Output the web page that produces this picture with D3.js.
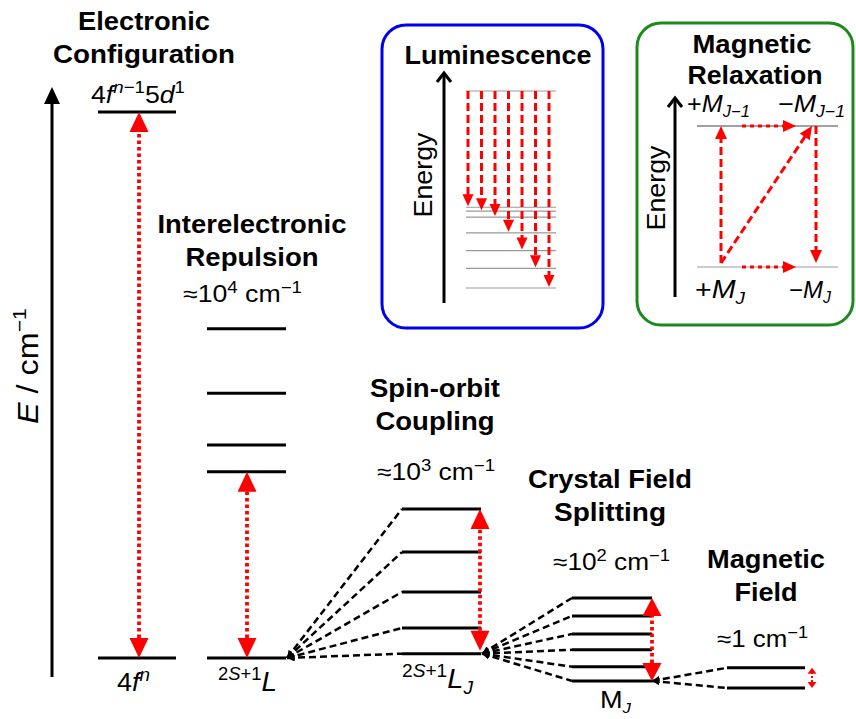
<!DOCTYPE html>
<html><head><meta charset="utf-8">
<script src="https://cdn.jsdelivr.net/npm/d3@7"></script>
<style>body{margin:0;background:#fff}svg{display:block;font-family:"Liberation Sans",Arial,sans-serif}</style>
</head><body><svg id="c" width="856" height="719"></svg>
<script>
// ---------- data (energies in arbitrary units, ground state = 0) ----------
const configLevels = [1000, 0];                    // 4f^(n-1)5d^1 , 4f^n
const repulsionLevels = [603, 485, 390, 341, 0];   // 2S+1 L terms
const spinOrbitLevels = [273, 194, 121, 55, 8];    // 2S+1 L_J
const crystalFieldLevels = [110, 77, 44, 15, -16, -42]; // M_J
const zeemanLevels = [-18, -55];                   // magnetic field
const luminescenceUpper = 100;
const luminescenceLower = [41, 39, 36, 28, 19, 10, 0];
const relaxationLevels = [100, 0];                 // ±M_(J-1), ±M_J
const headings = [["Electronic","Configuration"],["Interelectronic","Repulsion"],["Spin-orbit","Coupling"],["Crystal Field","Splitting"],["Magnetic","Field"]];
const splitExponents = ["4","3","2",""];

// ---------- setup ----------
const svg = d3.select("#c");
const RED = "#ff0000";
const y = d3.scaleLinear().domain([0, 1000]).range([658, 112]);
const cols = {cfg:[98,176], ir:[207,286], so:[402,481], cf:[572,652], mf:[727,805]};

function head(g, tipX, tipY, fromX, fromY, len, w, color){
  const a = Math.atan2(tipY-fromY, tipX-fromX);
  const bx = tipX - len*Math.cos(a), by = tipY - len*Math.sin(a);
  const px = -Math.sin(a)*w/2, py = Math.cos(a)*w/2;
  g.append("path").attr("d", d3.line()([[tipX,tipY],[bx+px,by+py],[bx-px,by-py]]) + "Z").attr("fill", color);
}
function arrow(g, x1, y1, x2, y2, o){
  const len = o.len, w = o.w, a = Math.atan2(y2-y1, x2-x1);
  const sx = o.dbl ? x1 + len*Math.cos(a) : x1, sy = o.dbl ? y1 + len*Math.sin(a) : y1;
  const ex = x2 - len*Math.cos(a)*0.9, ey = y2 - len*Math.sin(a)*0.9;
  g.append("line").attr("x1",sx).attr("y1",sy).attr("x2",ex).attr("y2",ey)
    .attr("stroke",o.color).attr("stroke-width",o.sw).attr("stroke-dasharray",o.dash||null);
  head(g, x2, y2, x1, y1, len, w, o.color);
  if(o.dbl) head(g, x1, y1, x2, y2, len, w, o.color);
}
function label(g, x, y0, parts, o){
  const t = g.append("text").attr("x",x).attr("y",y0).attr("font-size",o.size)
    .attr("text-anchor",o.anchor||"start").attr("font-weight",o.bold?"bold":null).attr("fill","#000");
  if(o.rot) t.attr("transform",`rotate(-90,${x},${y0})`);
  let cur = 0;
  const sr = o.sr || 0.66;
  parts.forEach(p=>{
    const s = typeof p === "string" ? {t:p} : p;
    const target = s.s==="sup" ? -0.4*o.size : s.s==="sub" ? 0.22*o.size : 0;
    const ts = t.append("tspan").text(s.t);
    if(s.i) ts.attr("font-style","italic");
    if(s.s) ts.attr("font-size", o.size*sr);
    if(target!==cur){ ts.attr("dy", target-cur); cur = target; }
  });
  if(o.w) t.attr("textLength",o.w).attr("lengthAdjust","spacingAndGlyphs");
  return t;
}

// ---------- main energy axis ----------
const main = svg.append("g");
main.append("line").attr("x1",52).attr("x2",52).attr("y1",677).attr("y2",100).attr("stroke","#000").attr("stroke-width",3);
head(main, 52, 87, 52, 677, 17, 16, "#000");
label(main, 38, 366, [{t:"E",i:1}," / cm",{t:"−1",s:"sup"}], {size:29, anchor:"middle", rot:1, w:116});

// ---------- levels ----------
function levels(arr, c, sw){
  main.selectAll(null).data(arr).join("line")
    .attr("x1",c[0]).attr("x2",c[1]).attr("y1",d=>y(d)).attr("y2",d=>y(d))
    .attr("stroke","#000").attr("stroke-width",sw||3);
}
levels(configLevels, cols.cfg);
levels(repulsionLevels, cols.ir);
levels(spinOrbitLevels, cols.so);
levels(crystalFieldLevels, cols.cf);
levels(zeemanLevels, cols.mf);

// dashed connectors with small arrow tips at origin
const defs = svg.append("defs");
defs.append("marker").attr("id","tip").attr("viewBox","0 0 10 10").attr("refX",10).attr("refY",5)
  .attr("markerWidth",3).attr("markerHeight",3).attr("orient","auto-start-reverse")
  .append("path").attr("d","M0,0L10,5L0,10Z").attr("fill","#000");
function connect(ox, oy, arr, c){
  main.selectAll(null).data(arr).join("line")
    .attr("x1",ox).attr("y1",oy).attr("x2",c[0]).attr("y2",d=>y(d))
    .attr("stroke","#000").attr("stroke-width",2.5).attr("stroke-dasharray","7,4")
    .attr("marker-start","url(#tip)");
}
connect(cols.ir[1]+1, y(repulsionLevels[4]), spinOrbitLevels, cols.so);
connect(cols.so[1]+1, y(spinOrbitLevels[4]), crystalFieldLevels, cols.cf);
connect(cols.cf[1], y(crystalFieldLevels[5]), zeemanLevels, cols.mf);

// red splitting arrows
const dotted = {color:RED, sw:3.8, dash:"3.5,3", dbl:true, len:20, w:19};
arrow(main, 139, y(configLevels[1]), 139, y(configLevels[0]), dotted);
arrow(main, 247, y(repulsionLevels[4]), 247, y(repulsionLevels[3]), dotted);
arrow(main, 480, y(spinOrbitLevels[4])-3, 480, y(spinOrbitLevels[0]), dotted);
arrow(main, 652, y(crystalFieldLevels[5]), 652, y(crystalFieldLevels[0]), Object.assign({}, dotted, {len:18}));
arrow(main, 812, y(zeemanLevels[1]), 812, y(zeemanLevels[0]), {color:RED, sw:2, dash:"2,2", dbl:true, len:6, w:9});

// ---------- headings ----------
const H = [
  {cx:144, y:[30,63], w:[132,182]},
  {cx:252, y:[233,266], w:[189,133]},
  {cx:435, y:[397,430], w:[130,119]},
  {cx:610, y:[488,521], w:[164,112]},
  {cx:766, y:[568,601], w:[118,63]}
];
headings.forEach((h,i)=>h.forEach((line,j)=>
  label(main, H[i].cx, H[i].y[j], [line], {size:25, bold:1, anchor:"middle", w:H[i].w[j]})));

// magnitude labels
const M = [{x:183,y:302,w:119},{x:377,y:480,w:118},{x:553,y:570,w:117},{x:717,y:647,w:91}];
splitExponents.forEach((e,i)=>{
  const parts = e ? ["≈10",{t:e,s:"sup"}," cm",{t:"−1",s:"sup"}] : ["≈1 cm",{t:"−1",s:"sup"}];
  label(main, M[i].x, M[i].y, parts, {size:23, w:M[i].w, sr:0.7});
});

// state labels
label(main, 91, 103, ["4",{t:"f",i:1},{t:"n",i:1,s:"sup"},{t:"−1",s:"sup"},"5",{t:"d",i:1},{t:"1",s:"sup"}], {size:24, w:94, sr:0.7});
label(main, 117, 691, ["4",{t:"f",i:1},{t:"n",i:1,s:"sup"}], {size:25, w:33, sr:0.7});
label(main, 218, 691, [{t:"2",s:"sup"},{t:"S",i:1,s:"sup"},{t:"+1",s:"sup"},{t:"L",i:1}], {size:27, w:59, sr:0.66});
label(main, 402, 688, [{t:"2",s:"sup"},{t:"S",i:1,s:"sup"},{t:"+1",s:"sup"},{t:"L",i:1},{t:"J",i:1,s:"sub"}], {size:27, w:71, sr:0.66});
label(main, 600, 708, ["M",{t:"J",i:1,s:"sub"}], {size:24, w:31, sr:0.62});

// ---------- Luminescence inset ----------
const lum = svg.append("g");
lum.append("rect").attr("x",382).attr("y",25).attr("width",221).attr("height",303).attr("rx",24)
  .attr("fill","#fff").attr("stroke","#0000f0").attr("stroke-width",3);
label(lum, 498, 64, ["Luminescence"], {size:25, bold:1, anchor:"middle", w:187});
lum.append("line").attr("x1",444).attr("x2",444).attr("y1",303).attr("y2",74).attr("stroke","#000").attr("stroke-width",3);
lum.append("polyline").attr("points","437,82 444,73 451,82").attr("fill","none").attr("stroke","#000").attr("stroke-width",3);
label(lum, 432, 175, ["Energy"], {size:26, anchor:"middle", rot:1, w:85});
const yL = d3.scaleLinear().domain([0,100]).range([288,91]);
lum.selectAll(null).data([luminescenceUpper, ...luminescenceLower]).join("line")
  .attr("x1",466).attr("x2",556).attr("y1",d=>yL(d)).attr("y2",d=>yL(d))
  .attr("stroke","#999").attr("stroke-width",1.2);
const xL = d3.scalePoint().domain(d3.range(luminescenceLower.length)).range([468,549]);
luminescenceLower.forEach((v,i)=>arrow(lum, xL(i), yL(luminescenceUpper), xL(i), yL(v)-1,
  {color:RED, sw:3, dash:"8,4", len:12, w:11}));

// ---------- Magnetic relaxation inset ----------
const mag = svg.append("g");
mag.append("rect").attr("x",637).attr("y",23).attr("width",216).attr("height",302).attr("rx",24)
  .attr("fill","#fff").attr("stroke","#1e8a1e").attr("stroke-width",3);
label(mag, 752, 53, ["Magnetic"], {size:25, bold:1, anchor:"middle", w:119});
label(mag, 755, 84, ["Relaxation"], {size:25, bold:1, anchor:"middle", w:135});
mag.append("line").attr("x1",675).attr("x2",675).attr("y1",297).attr("y2",99).attr("stroke","#000").attr("stroke-width",3);
mag.append("polyline").attr("points","668,107 675,98 682,107").attr("fill","none").attr("stroke","#000").attr("stroke-width",3);
label(mag, 665, 188, ["Energy"], {size:26, anchor:"middle", rot:1, w:85});
const yM = d3.scaleLinear().domain([0,100]).range([267,126]);
mag.append("line").attr("x1",697).attr("x2",838).attr("y1",yM(relaxationLevels[0])).attr("y2",yM(relaxationLevels[0])).attr("stroke","#444").attr("stroke-width",1.2);
mag.append("line").attr("x1",697).attr("x2",838).attr("y1",yM(relaxationLevels[1])).attr("y2",yM(relaxationLevels[1])).attr("stroke","#999").attr("stroke-width",1.2);
const dash = {color:RED, sw:3, dash:"8,4", len:13, w:12};
const dot = {color:RED, sw:3, dash:"4,4", len:13, w:12};
arrow(mag, 721, yM(relaxationLevels[1])-4, 721, yM(relaxationLevels[0]), dash);
arrow(mag, 721, yM(relaxationLevels[1])-4, 812, yM(relaxationLevels[0]), dash);
arrow(mag, 816, yM(relaxationLevels[0]), 816, yM(relaxationLevels[1])-4, dash);
arrow(mag, 742, yM(relaxationLevels[0]), 796, yM(relaxationLevels[0]), dot);
arrow(mag, 742, yM(relaxationLevels[1]), 796, yM(relaxationLevels[1]), dot);
label(mag, 687, 112, ["+",{t:"M",i:1},{t:"J−1",i:1,s:"sub"}], {size:24, w:63, sr:0.66});
label(mag, 778, 112, ["−",{t:"M",i:1},{t:"J−1",i:1,s:"sub"}], {size:24, w:67, sr:0.66});
label(mag, 695, 298, ["+",{t:"M",i:1},{t:"J",i:1,s:"sub"}], {size:25, w:50, sr:0.66});
label(mag, 789, 298, ["−",{t:"M",i:1},{t:"J",i:1,s:"sub"}], {size:24, sr:0.66});
</script></body></html>
